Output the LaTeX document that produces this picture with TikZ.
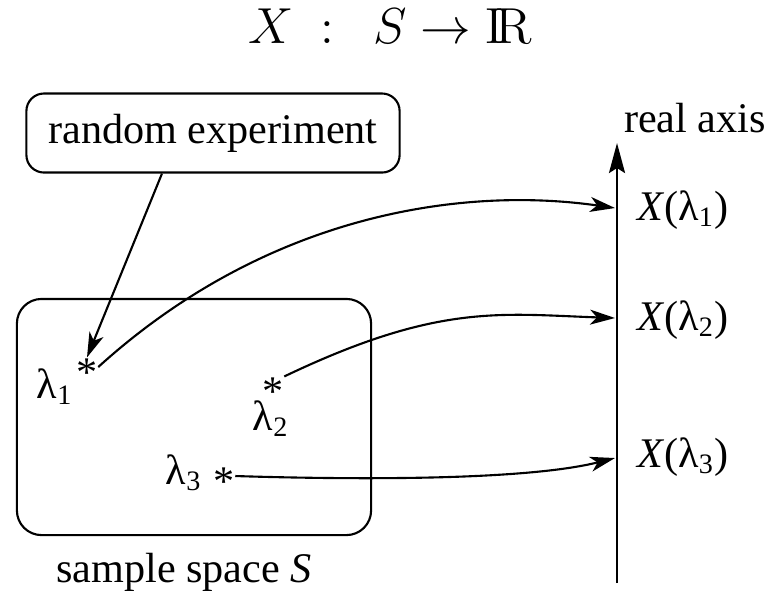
\documentclass[tikz,border=0pt]{standalone}
\usepackage[no-math]{fontspec}
\setmainfont{Liberation Serif}
\usetikzlibrary{arrows.meta}
\tikzset{
  box/.style={draw,line width=0.6pt,rounded corners=5pt},
  map/.style={line width=0.6pt,-{Stealth[length=0.25cm,width=0.15cm,inset=0.07cm]}},
  axisline/.style={line width=0.7pt,-{Stealth[length=0.3cm,width=0.16cm,inset=0.05cm]}},
  starmark/.style={inner sep=0pt},
  lab/.style={inner sep=1pt}
}
\newcommand{\samplestar}{\raisebox{-0.26em}[0.42em][0pt]{*}}
\begin{document}
\begin{tikzpicture}[x=0.01cm,y=-0.01cm,font=\fontsize{12}{14}\selectfont]
    \useasboundingbox (0,0) rectangle (771,593);
    % title
    \node[lab,anchor=base] (title) at (390,43) {\fontsize{14.4}{17}\selectfont$X\ :\ \ S \to \mathrm{I\!R}$};
    % boxes
    \node[box,minimum width=3.73cm,minimum height=0.79cm] (rexp) at (213,133) {random experiment};
    \node[box,rounded corners=7pt,minimum width=3.54cm,minimum height=2.36cm] (space) at (194,417) {};
    \node[lab,anchor=base] (spacelab) at (184,582) {sample space \textit{S}};
    % sample points
    \node[starmark] (s1) at (87,367) {\samplestar};
    \node[starmark] (s2) at (273,386) {\samplestar};
    \node[starmark] (s3) at (224,476) {\samplestar};
    \node[lab,anchor=base] (l1) at (55,398) {λ\textsubscript{1}};
    \node[lab,anchor=base] (l2) at (271,430) {λ\textsubscript{2}};
    \node[lab,anchor=base] (l3) at (184,484) {λ\textsubscript{3}};
    % real axis
    \coordinate (abot) at (617,583);
    \coordinate (atop) at (617,143);
    \draw[axisline] (abot) -- (atop);
    \node[lab,anchor=base] (axislab) at (695,132) {real axis};
    \coordinate (x1) at (615,208);
    \coordinate (x2) at (615,318);
    \coordinate (x3) at (615,458);
    \node[lab,anchor=base west] (v1) at (633,220) {\textit{X}(λ\textsubscript{1})};
    \node[lab,anchor=base west] (v2) at (633,330) {\textit{X}(λ\textsubscript{2})};
    \node[lab,anchor=base west] (v3) at (633,467) {\textit{X}(λ\textsubscript{3})};
    % mappings
    \coordinate (rfoot) at ([xshift=-0.51cm]rexp.south);
    \draw[map] (rfoot) -- (s1.north);
    \draw[map] (s1.east) .. controls (267,214) and (462,186) .. (x1);
    \draw[map] (s2.north east) .. controls (438,303) and (500,314) .. (x2);
    \draw[map] (s3.east) .. controls (330,479) and (520,482) .. (x3);
\end{tikzpicture}
\end{document}
